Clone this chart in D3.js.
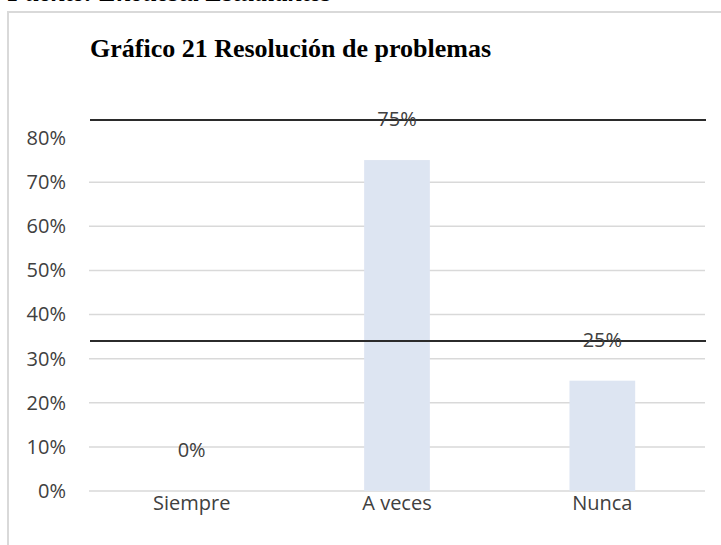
<!DOCTYPE html>
<html>
<head>
<meta charset="utf-8">
<script src="https://cdn.jsdelivr.net/npm/d3@7"></script>
<style>
  body { margin: 0; background: #fff; }
  svg { display: block; }
</style>
</head>
<body>
<svg id="chart" width="721" height="545"></svg>
<script>
// data
const categories = ["Siempre", "A veces", "Nunca"];
const values = [0, 0.75, 0.25];
const yTicks = [0, 0.1, 0.2, 0.3, 0.4, 0.5, 0.6, 0.7, 0.8];
const gridTicks = [0, 0.1, 0.2, 0.3, 0.4, 0.5, 0.6, 0.7];
const title = "Gráfico 21 Resolución de problemas";
const source = "Fuente: Encuesta Estudiantes";

const svg = d3.select("#chart");
const width = 721, height = 545;
const margin = { top: 138, right: 16, bottom: 54, left: 89 };

const fontAxis = "'Open Sans', 'Noto Sans', sans-serif";
const textColor = "#404040";

// source line, cut off at the top of the page
svg.append("text")
  .attr("x", 8)
  .attr("y", 1)
  .style("font-family", "'Liberation Serif', serif")
  .style("font-weight", "bold")
  .style("font-style", "italic")
  .style("font-size", "26px")
  .style("fill", "#000")
  .text(source);

// chart frame (only top + left visible)
svg.append("path")
  .attr("d", `M8,${height} L8,12 L${width},12`)
  .attr("fill", "none")
  .attr("stroke", "#d9d9d9")
  .attr("stroke-width", 2);

// title
svg.append("text")
  .attr("x", 90)
  .attr("y", 57)
  .style("font-family", "'Liberation Serif', serif")
  .style("font-weight", "bold")
  .style("font-size", "26px")
  .style("fill", "#000")
  .text(title);

const x = d3.scaleBand().domain(categories).range([margin.left, width - margin.right]).padding(0);
const y = d3.scaleLinear().domain([0, 0.8]).range([height - margin.bottom, margin.top]);

// gridlines
svg.append("g")
  .selectAll("line")
  .data(gridTicks)
  .enter()
  .append("line")
  .attr("x1", margin.left)
  .attr("x2", width - margin.right)
  .attr("y1", d => y(d))
  .attr("y2", d => y(d))
  .attr("stroke", "#d9d9d9")
  .attr("stroke-width", 1.5);

// y axis labels
const yAxis = svg.append("g")
  .attr("transform", `translate(${margin.left},0)`)
  .call(d3.axisLeft(y).tickValues(yTicks).tickFormat(d3.format(".0%")).tickSize(0).tickPadding(23));
yAxis.select(".domain").remove();
yAxis.selectAll("text")
  .style("font-family", fontAxis)
  .style("font-size", "20px")
  .style("fill", textColor);

// bars
const barW = x.bandwidth() * 0.32;
svg.append("g")
  .selectAll("rect")
  .data(values)
  .enter()
  .append("rect")
  .attr("x", (d, i) => x(categories[i]) + (x.bandwidth() - barW) / 2)
  .attr("y", d => y(d))
  .attr("width", barW)
  .attr("height", d => y(0) - y(d))
  .attr("fill", "#dde5f2");

// x axis labels
const xAxis = svg.append("g")
  .attr("transform", `translate(0,${y(0)})`)
  .call(d3.axisBottom(x).tickSize(0).tickPadding(5));
xAxis.select(".domain").remove();
xAxis.selectAll("text")
  .style("font-family", fontAxis)
  .style("font-size", "20px")
  .style("fill", textColor);

// horizontal black rules crossing the chart
svg.append("g")
  .selectAll("line")
  .data([120, 341])
  .enter()
  .append("line")
  .attr("x1", 90)
  .attr("x2", 706)
  .attr("y1", d => d)
  .attr("y2", d => d)
  .attr("stroke", "#2b2b2b")
  .attr("stroke-width", 2);

// value labels
svg.append("g")
  .selectAll("text")
  .data(values)
  .enter()
  .append("text")
  .attr("x", (d, i) => x(categories[i]) + x.bandwidth() / 2)
  .attr("y", d => y(d) - 34)
  .attr("text-anchor", "middle")
  .style("font-family", fontAxis)
  .style("font-size", "20px")
  .style("fill", textColor)
  .text(d => d3.format(".0%")(d));
</script>
</body>
</html>
